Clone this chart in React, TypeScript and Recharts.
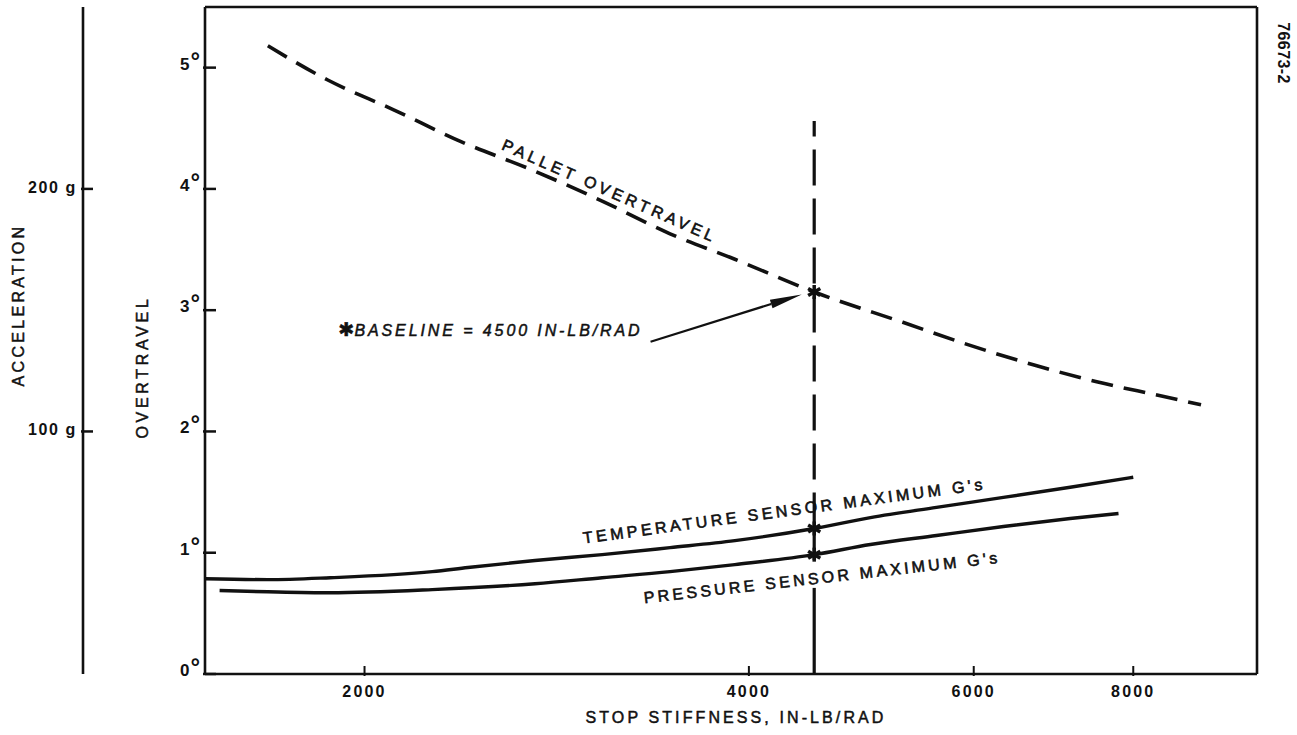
import React from 'react'
import { LineChart, Line, XAxis, YAxis, ReferenceLine, ReferenceDot } from 'recharts'

// stop stiffness (in-lb/rad), log axis
const stiffnessTicks = [2000, 4000, 6000, 8000]
const overtravelTicks = [0, 1, 2, 3, 4, 5]
const accelTicks = [100, 200]

// pallet overtravel, degrees
const palletStiffness = [1680, 1870, 2110, 2380, 2700, 3070, 3470, 3900, 4500, 5280, 5920, 6680, 7490, 8350, 9040]
const palletOvertravel = [5.18, 4.9, 4.65, 4.39, 4.16, 3.9, 3.63, 3.42, 3.15, 2.9, 2.72, 2.55, 2.41, 2.3, 2.22]

// sensor maximum g's
const tempStiffness = [1500, 1680, 1880, 2260, 2410, 2720, 3070, 3470, 3900, 4500, 4980, 5610, 6330, 7140, 8000]
const tempMaxG = [39.3, 38.9, 39.7, 42.2, 43.9, 46.8, 49.2, 52.1, 55.0, 60.0, 64.5, 68.7, 72.8, 77.0, 81.1]

const pressStiffness = [1540, 1680, 1880, 2260, 2720, 3070, 3470, 3900, 4500, 4980, 5610, 6330, 7140, 7790]
const pressMaxG = [34.4, 33.9, 33.5, 34.8, 37.2, 39.7, 42.2, 45.1, 49.2, 53.4, 57.1, 60.8, 64.1, 66.2]

const BASELINE = 4500
const G_PER_DEG = 50
const DEG_MAX = 5.5

const FONT = '"Liberation Sans", Arial, Helvetica, sans-serif'
const INK = '#111'

const zip = (xs: number[], ys: number[]) => xs.map((x, i) => ({ x, y: ys[i] }))
const palletData = zip(palletStiffness, palletOvertravel)
const tempData = zip(tempStiffness, tempMaxG)
const pressData = zip(pressStiffness, pressMaxG)

const at = (xs: number[], ys: number[], x: number) => ys[xs.indexOf(x)]
const palletBase = at(palletStiffness, palletOvertravel, BASELINE)
const tempBase = at(tempStiffness, tempMaxG, BASELINE)
const pressBase = at(pressStiffness, pressMaxG, BASELINE)

const DegTick = (props: any) => {
  const { x, y, payload } = props
  return (
    <g>
      <line x1={x} y1={y} x2={x + 13} y2={y} stroke={INK} strokeWidth={2.5} />
      <text x={x - 3} y={y + 2} textAnchor="end" fontFamily={FONT} fontWeight="bold" fontSize={17} fill={INK}>
        {payload.value}
        <tspan fontSize={24} dx={1} dy={-1}>°</tspan>
      </text>
    </g>
  )
}

const GTick = (props: any) => {
  const { x, y, payload } = props
  return (
    <g>
      <line x1={x} y1={y} x2={x + 12} y2={y} stroke={INK} strokeWidth={2.5} />
      <text x={x - 4} y={y + 4} textAnchor="end" fontFamily={FONT} fontWeight="bold" fontSize={16} letterSpacing={1.6} fill={INK}>
        {payload.value} g
      </text>
    </g>
  )
}

const StiffTick = (props: any) => {
  const { x, y, payload } = props
  return (
    <g>
      <line x1={x} y1={y} x2={x} y2={y - 10} stroke={INK} strokeWidth={2} />
      <text x={x} y={y + 21} textAnchor="middle" fontFamily={FONT} fontWeight="bold" fontSize={16} letterSpacing={2.2} fill={INK}>
        {payload.value}
      </text>
    </g>
  )
}

const AxisTitle = (props: any) => {
  const { viewBox, text, ox, oy, rot = 0, size = 16, weight = 'normal', spacing = 3 } = props
  const vb = viewBox || { x: 0, y: 0 }
  const cx = vb.x + ox
  const cy = vb.y + oy
  return (
    <text
      x={cx}
      y={cy}
      transform={`rotate(${rot} ${cx} ${cy})`}
      textAnchor="middle"
      dominantBaseline="central"
      fontFamily={FONT}
      fontSize={size}
      fontWeight={weight}
      letterSpacing={spacing}
      fill={INK}
      stroke={INK}
      strokeWidth={weight === 'bold' ? 0 : 0.5}
    >
      {text}
    </text>
  )
}

const Asterisk = (props: any) => {
  const { cx, cy } = props
  const r = 7
  const arms = [90, 30, 150].map((a) => {
    const rad = (a * Math.PI) / 180
    return { dx: r * Math.cos(rad), dy: r * Math.sin(rad) }
  })
  return (
    <g>
      {arms.map((d, i) => (
        <line key={i} x1={cx - d.dx} y1={cy - d.dy} x2={cx + d.dx} y2={cy + d.dy} stroke={INK} strokeWidth={3.5} />
      ))}
    </g>
  )
}

const curveLabel = (text: string, rot: number, spacing: number) => (props: any) => {
  const { cx, cy } = props
  return (
    <text
      x={cx}
      y={cy}
      transform={`rotate(${rot} ${cx} ${cy})`}
      textAnchor="middle"
      fontFamily={FONT}
      fontSize={16}
      letterSpacing={spacing}
      fill={INK}
      stroke={INK}
      strokeWidth={0.6}
    >
      {text}
    </text>
  )
}

const BaselineArrow = (props: any) => {
  const { x1, y1, x2, y2 } = props
  const len = Math.hypot(x2 - x1, y2 - y1)
  const ux = (x2 - x1) / len
  const uy = (y2 - y1) / len
  const head = 32
  const half = 4.5
  const bx = x2 - ux * head
  const by = y2 - uy * head
  return (
    <g>
      <line x1={x1} y1={y1} x2={bx} y2={by} stroke={INK} strokeWidth={2.2} />
      <polygon
        points={`${x2},${y2} ${bx - uy * half},${by + ux * half} ${bx + uy * half},${by - ux * half}`}
        fill={INK}
      />
      <text x={x1 - 8} y={y1 - 6} textAnchor="end" fontFamily={FONT} fontSize={16} fontStyle="italic" letterSpacing={2.9} fill={INK} stroke={INK} strokeWidth={0.5}>
        <tspan fontFamily="DejaVu Sans" fontStyle="normal" fontSize={19} letterSpacing={0}>✱</tspan>BASELINE = 4500 IN-LB/RAD
      </text>
    </g>
  )
}

export default function App() {
  const axisLine = { stroke: INK, strokeWidth: 2.6 }
  return (
    <div style={{ position: 'absolute', left: 0, top: 0, width: 1297, height: 735, background: '#fff' }}>
      <LineChart width={1297} height={735} margin={{ top: 6, right: 39, bottom: 0, left: 0 }}>
        <XAxis
          dataKey="x"
          type="number"
          scale="log"
          domain={[1500, 10000]}
          allowDataOverflow
          ticks={stiffnessTicks}
          interval={0}
          height={61}
          tickLine={false}
          tickSize={0}
          tick={<StiffTick />}
          axisLine={axisLine}
          label={<AxisTitle text="STOP STIFFNESS, IN-LB/RAD" ox={531} oy={43} spacing={3.1} />}
        />
        <XAxis xAxisId="top" orientation="top" type="number" scale="log" domain={[1500, 10000]} allowDataOverflow height={1} tick={false} tickLine={false} axisLine={axisLine} />
        <YAxis
          yAxisId="deg"
          dataKey="y"
          type="number"
          domain={[0, DEG_MAX]}
          allowDataOverflow
          ticks={overtravelTicks}
          interval={0}
          width={122}
          tickLine={false}
          tickSize={0}
          tick={<DegTick />}
          axisLine={axisLine}
          label={<AxisTitle text="OVERTRAVEL" ox={59} oy={360} rot={-90} spacing={3.7} />}
        />
        <YAxis
          yAxisId="g"
          dataKey="y"
          type="number"
          domain={[0, DEG_MAX * G_PER_DEG]}
          allowDataOverflow
          ticks={accelTicks}
          interval={0}
          width={83}
          tickLine={false}
          tickSize={0}
          tick={<GTick />}
          axisLine={axisLine}
          label={<AxisTitle text="ACCELERATION" ox={18} oy={298} rot={-90} spacing={3.3} />}
        />
        <YAxis
          yAxisId="frame"
          orientation="right"
          type="number"
          domain={[0, DEG_MAX]}
          width={1}
          tick={false}
          tickLine={false}
          axisLine={axisLine}
          label={<AxisTitle text="76673-2" ox={26} oy={46} rot={90} weight="bold" size={16} spacing={0.4} />}
        />

        <ReferenceLine yAxisId="g" segment={[{ x: BASELINE, y: 0 }, { x: BASELINE, y: 35.5 }]} stroke={INK} strokeWidth={3.2} />
        <ReferenceLine yAxisId="g" segment={[{ x: BASELINE, y: 47 }, { x: BASELINE, y: tempBase }]} stroke={INK} strokeWidth={3.2} />
        <ReferenceLine yAxisId="deg" segment={[{ x: BASELINE, y: tempBase / G_PER_DEG }, { x: BASELINE, y: 4.56 }]} stroke={INK} strokeWidth={3.2} strokeDasharray="36 13" />

        <Line data={palletData} yAxisId="deg" dataKey="y" type="monotone" stroke={INK} strokeWidth={3.6} strokeDasharray="22 11" dot={false} activeDot={false} isAnimationActive={false} />
        <Line data={tempData} yAxisId="g" dataKey="y" type="monotone" stroke={INK} strokeWidth={3.4} dot={false} activeDot={false} isAnimationActive={false} />
        <Line data={pressData} yAxisId="g" dataKey="y" type="monotone" stroke={INK} strokeWidth={3.4} dot={false} activeDot={false} isAnimationActive={false} />

        <ReferenceLine yAxisId="deg" segment={[{ x: 3350, y: 2.74 }, { x: 4400, y: 3.13 }]} shape={BaselineArrow} ifOverflow="visible" />

        <ReferenceDot yAxisId="deg" x={BASELINE} y={palletBase} r={0} shape={Asterisk} />
        <ReferenceDot yAxisId="g" x={BASELINE} y={tempBase} r={0} shape={Asterisk} />
        <ReferenceDot yAxisId="g" x={BASELINE} y={pressBase} r={0} shape={Asterisk} />

        <ReferenceDot yAxisId="deg" x={3100} y={3.94} r={0} shape={curveLabel('PALLET OVERTRAVEL', 23.8, 3.8)} />
        <ReferenceDot yAxisId="g" x={4270} y={65} r={0} shape={curveLabel("TEMPERATURE SENSOR MAXIMUM G's", -7.7, 3.5)} />
        <ReferenceDot yAxisId="g" x={4570} y={37.5} r={0} shape={curveLabel("PRESSURE SENSOR MAXIMUM G's", -6.5, 3.3)} />
      </LineChart>
    </div>
  )
}
